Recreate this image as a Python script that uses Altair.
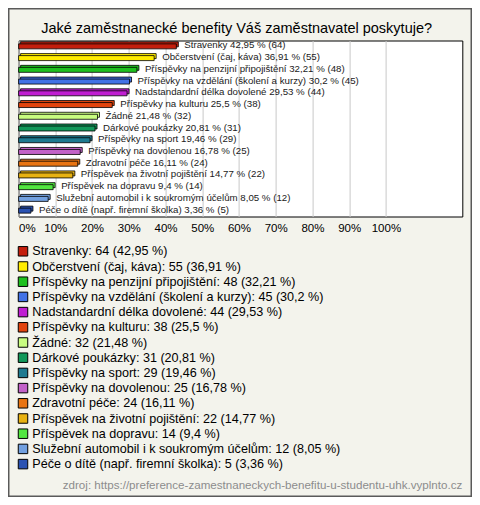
import altair as alt
import pandas as pd

categories = [
    "Stravenky",
    "Občerstvení (čaj, káva)",
    "Příspěvky na penzijní připojištění",
    "Příspěvky na vzdělání (školení a kurzy)",
    "Nadstandardní délka dovolené",
    "Příspěvky na kulturu",
    "Žádné",
    "Dárkové poukázky",
    "Příspěvky na sport",
    "Příspěvky na dovolenou",
    "Zdravotní péče",
    "Příspěvek na životní pojištění",
    "Příspěvek na dopravu",
    "Služební automobil i k soukromým účelům",
    "Péče o dítě (např. firemní školka)",
]
counts = [64, 55, 48, 45, 44, 38, 32, 31, 29, 25, 24, 22, 14, 12, 5]
percents = [42.95, 36.91, 32.21, 30.2, 29.53, 25.5, 21.48, 20.81, 19.46,
            16.78, 16.11, 14.77, 9.4, 8.05, 3.36]
colors = ["#c41e0c", "#ffec00", "#1ec01e", "#4272e6", "#c01ed2", "#e2440e",
          "#c8fc80", "#12985a", "#1e7a90", "#c262c8", "#e87412", "#e8b212",
          "#52e640", "#72a0e0", "#2a52b2"]
tick_values = [0, 10, 20, 30, 40, 50, 60, 70, 80, 90, 100]
title_text = "Jaké zaměstnanecké benefity Váš zaměstnavatel poskytuje?"
source_text = "zdroj: https://preference-zamestnaneckych-benefitu-u-studentu-uhk.vyplnto.cz"

def pct_str(p):
    return str(p).replace(".", ",")

df = pd.DataFrame({
    "cat": categories,
    "n": counts,
    "pct": percents,
    "bar_label": [f"{c} {pct_str(p)} % ({n})" for c, n, p in zip(categories, counts, percents)],
    "legend": [f"{c}: {n} ({pct_str(p)} %)" for c, n, p in zip(categories, counts, percents)],
})
legend_order = list(df["legend"])

FONT = "Liberation Sans"
PW, PH = 443.7, 176
PAD = {"left": 10.6, "top": 32.5, "right": 9.7, "bottom": 280.5}

x_enc = alt.X("pct:Q",
              scale=alt.Scale(domain=[0, 120.8], nice=False, zero=True),
              axis=alt.Axis(values=tick_values, labelExpr="datum.value + '%'",
                            grid=True, gridColor="#c8c8c8", gridWidth=1,
                            domain=False, ticks=False, title=None,
                            labelFont=FONT, labelFontSize=11.5, labelColor="#000",
                            labelPadding=6, labelFlush=True))
y_enc = alt.Y("cat:N", sort=categories,
              scale=alt.Scale(paddingInner=0, paddingOuter=0), axis=None)
color_enc = alt.Color("legend:N", sort=legend_order,
                      scale=alt.Scale(domain=legend_order, range=colors),
                      legend=alt.Legend(orient="none", legendX=-1.9, legendY=204.5,
                                        title=None, symbolType="square",
                                        symbolSize=90, symbolStrokeColor="#000",
                                        symbolStrokeWidth=1, symbolOpacity=1,
                                        labelFont=FONT, labelFontSize=12.6,
                                        labelColor="#000", labelLimit=0,
                                        labelOffset=3, rowPadding=0.2,
                                        padding=0, direction="vertical"))

base = alt.Chart(df)
back = base.mark_bar(size=5, stroke="#000", strokeWidth=0.8,
                     xOffset=2, x2Offset=2, yOffset=-2, y2Offset=-2).encode(
    x=x_enc, y=y_enc, color=color_enc)
front = base.mark_bar(size=5, stroke="#000", strokeWidth=0.8).encode(
    x=x_enc, y=y_enc, color=color_enc)
labels = base.mark_text(align="left", baseline="middle", dx=8, dy=-1,
                        font=FONT, fontSize=9.7, color="#1a1a1a").encode(
    x="pct:Q", y=alt.Y("cat:N", sort=categories), text="bar_label:N")

one = pd.DataFrame({"t": [title_text], "s": [source_text]})
title = alt.Chart(one).mark_text(align="center", baseline="alphabetic",
                                 font=FONT, fontSize=14.5, color="#000").encode(
    x=alt.value(218), y=alt.value(-8), text="t:N")
source = alt.Chart(one).mark_text(align="right", baseline="alphabetic",
                                  font=FONT, fontSize=11.6, color="#8c8c8c").encode(
    x=alt.value(PW), y=alt.value(448), text="s:N")
border = alt.Chart(one).mark_rect(fill=None, stroke="#5a5a5a", strokeWidth=1.5).encode(
    x=alt.value(-PAD["left"] + 0.75), x2=alt.value(PW + PAD["right"] - 0.75),
    y=alt.value(-PAD["top"] + 0.75), y2=alt.value(PH + PAD["bottom"] - 0.75))

chart = alt.layer(back, front, labels, title, source, border).properties(
    width=PW, height=PH, autosize="none", padding=PAD, background="#f3f3ec"
).configure_view(fill="white", stroke="#000", strokeWidth=1)

chart.save("out.html", embed_options={"renderer": "svg", "actions": False})
